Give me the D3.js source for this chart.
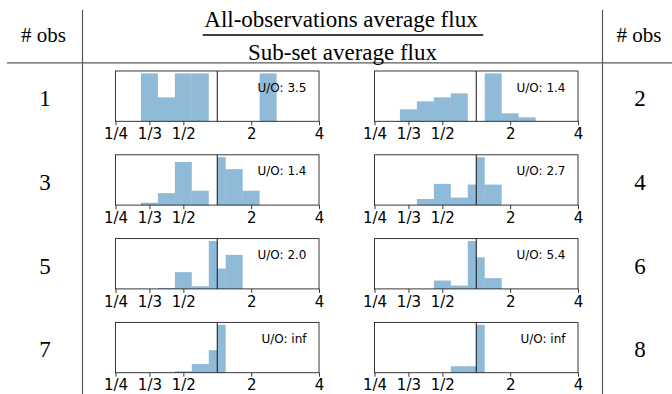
<!DOCTYPE html>
<html>
<head>
<meta charset="utf-8">
<script src="https://cdn.jsdelivr.net/npm/d3@7"></script>
<style>
  html, body { margin: 0; padding: 0; background: #fff; }
  svg { display: block; }
</style>
</head>
<body>
<svg id="chart" width="672" height="394"></svg>
<script>
// Flux ratio (all observations / sub-set) histograms, one panel per sub-set size.
const obsCounts = [1, 2, 3, 4, 5, 6, 7, 8];

// Bin edges on the folded ratio axis (r-1 above 1, 1-1/r below 1)
const binEdges = [-2.25, -1.75, -1.25, -0.75, -0.25, 0, 0.25, 0.75, 1.25, 1.75];

// Bar heights per bin, one array per panel
const hist1 = [2, 1, 2, 2, 0, 0, 0, 0, 2];
const hist2 = [3, 5, 6, 7, 0, 0, 12, 2, 1];
const hist3 = [1, 5, 18, 6, 0, 20, 15, 6, 0];
const hist4 = [0, 0.9, 3.1, 1.1, 3, 7, 3, 0, 0];
const hist5 = [0, 0.4, 7, 1.1, 20, 8.5, 14.2, 0, 0];
const hist6 = [0, 0, 3.5, 1.4, 20, 13.2, 4.5, 0, 0];
const hist7 = [0, 0, 0.6, 3.6, 9.4, 20, 0, 0, 0];
const hist8 = [0, 0, 0, 2.7, 2.7, 20, 0, 0, 0];
const histograms = [hist1, hist2, hist3, hist4, hist5, hist6, hist7, hist8];

// Upper/over ratio quoted in each panel
const uoValues = [3.5, 1.4, 1.4, 2.7, 2.0, 5.4, Infinity, Infinity];

// Axis ticks as flux ratios
const tickRatios = [1 / 4, 1 / 3, 1 / 2, 2, 4];
const tickLabels = ["1/4", "1/3", "1/2", "2", "4"];

const fold = r => (r >= 1 ? r - 1 : 1 - 1 / r);

const svg = d3.select("#chart");
const serif = "'Liberation Serif', 'Times New Roman', serif";
const sans = "'DejaVu Sans', sans-serif";

// ---- table frame ----
const rule = "#5a5a5a";
svg.append("line").attr("x1", 82.5).attr("x2", 82.5).attr("y1", 10).attr("y2", 394)
  .attr("stroke", rule).attr("stroke-width", 1.2);
svg.append("line").attr("x1", 602.5).attr("x2", 602.5).attr("y1", 10).attr("y2", 394)
  .attr("stroke", rule).attr("stroke-width", 1.2);
svg.append("line").attr("x1", 7).attr("x2", 672).attr("y1", 62.8).attr("y2", 62.8)
  .attr("stroke", rule).attr("stroke-width", 1.2);

svg.append("text").attr("x", 43.5).attr("y", 42.3).attr("text-anchor", "middle")
  .attr("font-family", serif).attr("font-size", 21).text("# obs");
svg.append("text").attr("x", 639).attr("y", 42.3).attr("text-anchor", "middle")
  .attr("font-family", serif).attr("font-size", 21).text("# obs");

// header fraction
svg.append("text").attr("x", 341).attr("y", 26.7).attr("text-anchor", "middle")
  .attr("font-family", serif).attr("font-size", 23).text("All-observations average flux");
svg.append("line").attr("x1", 202.7).attr("x2", 483.3).attr("y1", 35).attr("y2", 35)
  .attr("stroke", "#000").attr("stroke-width", 1.3);
svg.append("text").attr("x", 342.5).attr("y", 60).attr("text-anchor", "middle")
  .attr("font-family", serif).attr("font-size", 23).text("Sub-set average flux");

// ---- histogram panels ----
const panelW = 203.5, panelH = 50.3;
const colX = [115.5, 374.5];
const rowTop0 = 71, rowStep = 83.8;

const x = d3.scaleLinear().domain([-3, 3]).range([0, panelW]);

histograms.forEach((hist, i) => {
  const col = i % 2, row = Math.floor(i / 2);
  const px = colX[col], py = rowTop0 + row * rowStep;
  const y = d3.scaleLinear().domain([0, d3.max(hist) * 1.05]).range([panelH, 0]);
  const g = svg.append("g").attr("transform", `translate(${px},${py})`);

  const bins = hist.map((v, k) => ({ x0: binEdges[k], x1: binEdges[k + 1], v }))
    .filter(d => d.v > 0);
  g.selectAll("rect").data(bins).join("rect")
    .attr("x", d => x(d.x0))
    .attr("width", d => x(d.x1) - x(d.x0))
    .attr("y", d => y(d.v))
    .attr("height", d => panelH - y(d.v))
    .attr("fill", "#1f77b4").attr("fill-opacity", 0.5);

  // reference line at ratio 1
  g.append("line").attr("x1", x(fold(1))).attr("x2", x(fold(1)))
    .attr("y1", 0).attr("y2", panelH).attr("stroke", "#111").attr("stroke-width", 1);

  g.append("rect").attr("x", 0).attr("y", 0).attr("width", panelW).attr("height", panelH)
    .attr("fill", "none").attr("stroke", "#222").attr("stroke-width", 0.9);

  const axis = d3.axisBottom(x)
    .tickValues(tickRatios.map(fold))
    .tickFormat((d, k) => tickLabels[k])
    .tickSize(4).tickPadding(3);
  const ag = g.append("g").attr("transform", `translate(0,${panelH})`).call(axis);
  ag.select(".domain").remove();
  ag.selectAll("line").attr("stroke", "#222").attr("stroke-width", 0.9);
  ag.selectAll("text").attr("font-family", sans).attr("font-size", 15).attr("fill", "#000");

  const uo = uoValues[i];
  g.append("text").attr("x", panelW - 12.5).attr("y", 20.7).attr("text-anchor", "end")
    .attr("font-family", sans).attr("font-size", 12)
    .text("U/O: " + (isFinite(uo) ? uo.toFixed(1) : "inf"));

  // number of observations beside each panel
  const nx = col === 0 ? 45 : 640;
  svg.append("text").attr("x", nx).attr("y", py + 35)
    .attr("text-anchor", "middle").attr("font-family", serif).attr("font-size", 23)
    .text(obsCounts[i]);
});
</script>
</body>
</html>
